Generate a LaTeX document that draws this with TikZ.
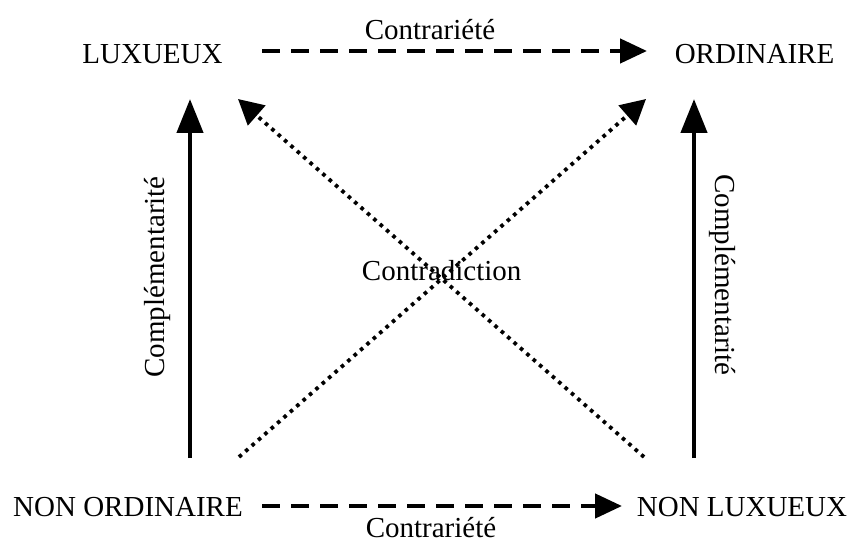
\documentclass[tikz,border=0pt]{standalone}
\usepackage{fontspec}
\setmainfont{Liberation Serif}
\usetikzlibrary{arrows.meta}
\tikzset{
  lbl/.style={inner sep=0pt, font=\fontsize{29}{34}\selectfont},
  contr/.style={line width=4.5pt, dash pattern=on 18pt off 11pt, -{Triangle[length=27pt,width=24pt]}},
  compl/.style={line width=4.5pt, -{Triangle[length=34pt,width=26pt]}},
  contrad/.style={line width=3.8pt, dash pattern=on 3.6pt off 4.9pt, -{Triangle[length=25pt,width=26pt]}}
}
\begin{document}
\begin{tikzpicture}[x=1pt,y=-1pt]
\useasboundingbox (0,0) rectangle (853,545);
\node[lbl, anchor=base] (lux) at (152.5,64) {LUXUEUX};
\node[lbl, anchor=base] (ord) at (754.5,64) {ORDINAIRE};
\node[lbl, anchor=base] (nonord) at (128,516) {NON ORDINAIRE};
\node[lbl, anchor=base] (nonlux) at (742,516) {NON LUXUEUX};
\node[lbl, anchor=base] (ctop) at (430,40) {Contrariété};
\node[lbl, anchor=base] (cbot) at (431,537) {Contrariété};
\node[lbl, anchor=base] (cdiag) at (441.7,280) {Contradiction};
\node[lbl, rotate=90] (cleft) at (158,277) {Complémentarité};
\node[lbl, rotate=-90] (cright) at (722,275) {Complémentarité};
% endpoints
\coordinate (t1) at (262,51);
\coordinate (t2) at (647,51);
\coordinate (b1) at (262,506);
\coordinate (b2) at (622,506);
\coordinate (l1) at (190,458);
\coordinate (l2) at (190,99);
\coordinate (r1) at (694,458);
\coordinate (r2) at (694,99);
\coordinate (d1s) at (239,457);
\coordinate (d1e) at (646,99);
\coordinate (d2s) at (644,457);
\coordinate (d2e) at (238,99);
\draw[contr] (t1) -- (t2);
\draw[contr] (b1) -- (b2);
\draw[compl] (l1) -- (l2);
\draw[compl] (r1) -- (r2);
\draw[contrad] (d1s) -- (d1e);
\draw[contrad] (d2s) -- (d2e);
\end{tikzpicture}
\end{document}
